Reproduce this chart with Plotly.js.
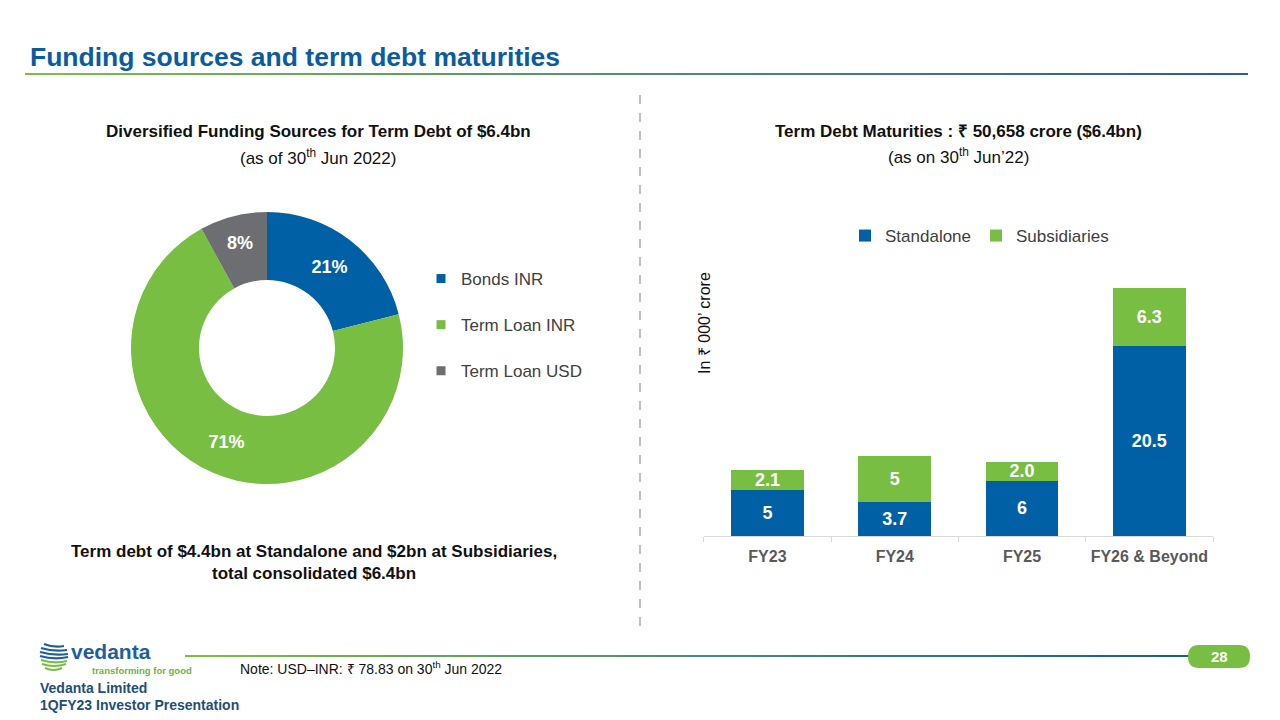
<!DOCTYPE html>
<html>
<head>
<meta charset="utf-8">
<script src="https://cdn.plot.ly/plotly-3.0.1.min.js"></script>
<style>
html,body{margin:0;padding:0;background:#fff;}
#chart{width:1280px;height:720px;}
</style>
</head>
<body>
<div id="chart"></div>
<script>
// ---- Data ----
const fundingLabels = ['Bonds INR', 'Term Loan INR', 'Term Loan USD'];
const fundingShares = [21, 71, 8];
const fundingColors = ['#0060A6', '#77BE43', '#6D6E71'];

const maturityCategories = ['FY23', 'FY24', 'FY25', 'FY26 & Beyond'];
const standaloneValues = [5, 3.7, 6, 20.5];
const standaloneLabels = ['5', '3.7', '6', '20.5'];
const subsidiaryValues = [2.1, 5, 2.0, 6.3];
const subsidiaryLabels = ['2.1', '5', '2.0', '6.3'];
const seriesNames = ['Standalone', 'Subsidiaries'];

const FONT = 'Arial, "Liberation Sans", sans-serif';
const BLUE = '#0060A6', GREEN = '#77BE43';

// ---- Traces ----
const traces = [];
traces.push({
  type: 'pie',
  labels: fundingLabels,
  values: fundingShares,
  marker: {colors: fundingColors, line: {width: 0}},
  hole: 0.5,
  sort: false,
  direction: 'clockwise',
  rotation: 0,
  textinfo: 'percent',
  textposition: 'inside',
  insidetextorientation: 'horizontal',
  textfont: {family: FONT, size: 18, color: '#ffffff', weight: 'bold'},
  domain: {x: [131/1280, 403/1280], y: [1 - 484/720, 1 - 212/720]},
  showlegend: false,
  hoverinfo: 'label+percent'
});
// legend entries for the donut (one per category, grouped so spacing can be set)
fundingLabels.forEach((lab, i) => {
  traces.push({
    type: 'scatter', mode: 'markers', x: [null], y: [null],
    xaxis: 'x2', yaxis: 'y2',
    name: lab, legendgroup: 'g' + i, legend: 'legend',
    marker: {symbol: 'square', size: 9, color: fundingColors[i]},
    showlegend: true, hoverinfo: 'skip'
  });
});
traces.push({
  type: 'bar', name: seriesNames[0], x: maturityCategories, y: standaloneValues,
  text: standaloneLabels, textposition: 'inside', insidetextanchor: 'middle', constraintext: 'none',
  textfont: {family: FONT, size: 18, color: '#ffffff', weight: 'bold'},
  marker: {color: BLUE}, legend: 'legend2', cliponaxis: false, textangle: 0
});
traces.push({
  type: 'bar', name: seriesNames[1], x: maturityCategories, y: subsidiaryValues,
  text: subsidiaryLabels, textposition: 'inside', insidetextanchor: 'middle', constraintext: 'none',
  textfont: {family: FONT, size: 18, color: '#ffffff', weight: 'bold'},
  marker: {color: GREEN}, legend: 'legend2', cliponaxis: false, textangle: 0
});

// ---- Decorative shapes ----
const shapes = [];
function lerp(a, b, t) { return Math.round(a + (b - a) * t); }
function gradLine(x0, x1, yTop, c0, c1, n, w) {
  const step = (x1 - x0) / n;
  for (let i = 0; i < n; i++) {
    const t = i / (n - 1);
    const c = 'rgb(' + lerp(c0[0], c1[0], t) + ',' + lerp(c0[1], c1[1], t) + ',' + lerp(c0[2], c1[2], t) + ')';
    shapes.push({type: 'rect', xref: 'paper', yref: 'paper',
      x0: Math.round(x0 + step * i) / 1280, x1: Math.min(x1, Math.round(x0 + step * (i + 1)) + 1) / 1280,
      y0: 1 - yTop / 720, y1: 1 - (yTop + w) / 720,
      fillcolor: c, line: {width: 0}, layer: 'below'});
  }
}
gradLine(25, 1248, 73, [122, 190, 70], [40, 95, 150], 30, 2);
gradLine(185, 1190, 655, [122, 190, 70], [30, 90, 155], 30, 2);
// dashed separator
shapes.push({type: 'line', xref: 'paper', yref: 'paper', x0: 640/1280, x1: 640/1280,
  y0: 1 - 95/720, y1: 1 - 630/720, line: {color: '#808080', width: 1, dash: 'dash'}});
// page badge
shapes.push({type: 'path', xref: 'paper', yref: 'paper',
  path: (function(){
    const L = 1188/1280, R = 1250/1280, T = 1 - 645/720, B = 1 - 668/720;
    const rx = 11/1280, ry = 11.5/720;
    return 'M ' + (L + rx) + ' ' + T + ' L ' + (R - rx) + ' ' + T +
      ' Q ' + R + ' ' + T + ' ' + R + ' ' + (T - ry) +
      ' Q ' + R + ' ' + B + ' ' + (R - rx) + ' ' + B +
      ' L ' + (L + rx) + ' ' + B +
      ' Q ' + L + ' ' + B + ' ' + L + ' ' + (T - ry) +
      ' Q ' + L + ' ' + T + ' ' + (L + rx) + ' ' + T + ' Z';
  })(),
  fillcolor: '#77BE43', line: {width: 0}});
// logo globe (stripes)
const logoStripes = [
  [44, 644, 64, 646, '#1C5FA0'], [41, 648, 67, 650, '#1C5FA0'], [40, 652, 68, 654, '#1C5FA0'],
  [40, 656, 68, 657, '#1C5FA0'], [41, 660, 67, 661, '#77BE43'], [42, 664, 66, 664, '#77BE43'],
  [45, 668, 62, 668, '#77BE43']
];
logoStripes.forEach(s => {
  shapes.push({type: 'path', xref: 'paper', yref: 'paper',
    path: 'M ' + s[0]/1280 + ' ' + (1 - s[1]/720) + ' Q ' + ((s[0] + s[2]) / 2)/1280 + ' ' + (1 - (s[1] + 4)/720) +
      ' ' + s[2]/1280 + ' ' + (1 - s[3]/720),
    line: {color: s[4], width: 2.2}});
});

// ---- Annotations ----
function ann(text, x, y, opts) {
  return Object.assign({text: text, xref: 'paper', yref: 'paper', x: x / 1280, y: 1 - y / 720,
    showarrow: false, xanchor: 'center', yanchor: 'middle',
    font: {family: FONT, size: 17, color: '#000000'}}, opts || {});
}
const annotations = [
  ann('<b>Funding sources and term debt maturities</b>', 28, 57,
    {xanchor: 'left', font: {family: FONT, size: 26.5, color: '#0B5C9E'}}),
  ann('<b>Diversified Funding Sources for Term Debt of $6.4bn</b>', 318, 131, {font: {family: FONT, size: 17, color: '#111'}}),
  ann('(as of 30<sup>th</sup> Jun 2022)', 318, 157, {font: {family: FONT, size: 17, color: '#111'}}),
  ann('<b>Term Debt Maturities : ₹ 50,658 crore ($6.4bn)</b>', 958, 131, {font: {family: FONT, size: 17, color: '#111'}}),
  ann('(as on 30<sup>th</sup> Jun’22)', 958, 156, {font: {family: FONT, size: 17, color: '#111'}}),
  ann('<b>Term debt of $4.4bn at Standalone and $2bn at Subsidiaries,</b>', 314, 551, {font: {family: FONT, size: 17, color: '#111'}}),
  ann('<b>total consolidated $6.4bn</b>', 314, 573, {font: {family: FONT, size: 17, color: '#111'}}),
  ann('In ₹ 000’ crore', 704, 323, {textangle: -90, font: {family: FONT, size: 16, color: '#111'}}),
  ann('Note: USD–INR: ₹ 78.83 on 30<sup>th</sup> Jun 2022', 238, 668, {xanchor: 'left', font: {family: FONT, size: 14, color: '#111'}}),
  ann('<b>Vedanta Limited</b>', 38, 688, {xanchor: 'left', font: {family: FONT, size: 14, color: '#1F4E79'}}),
  ann('<b>1QFY23 Investor Presentation</b>', 38, 705, {xanchor: 'left', font: {family: FONT, size: 14, color: '#1F4E79'}}),
  ann('<b>28</b>', 1219, 656, {font: {family: FONT, size: 15, color: '#ffffff'}}),
  ann('<b>vedanta</b>', 69, 651, {xanchor: 'left', font: {family: FONT, size: 21, color: '#1C5FA0'}}),
  ann('<b>transforming for good</b>', 90, 670, {xanchor: 'left', font: {family: FONT, size: 9.5, color: '#6DB33F'}})
];

// ---- Layout ----
const layout = {
  width: 1280, height: 720,
  margin: {l: 0, r: 0, t: 0, b: 0},
  paper_bgcolor: '#ffffff', plot_bgcolor: '#ffffff',
  font: {family: FONT, color: '#000'},
  barmode: 'stack',
  bargap: 0.43,
  xaxis: {
    domain: [703.8/1280, 1213/1280], anchor: 'y',
    type: 'category', showgrid: false, zeroline: false,
    showline: true, linecolor: '#D9D9D9', linewidth: 1,
    ticks: 'outside', tickson: 'boundaries', ticklen: 5, tickcolor: '#D9D9D9',
    ticklabelstandoff: 6,
    tickfont: {family: FONT, size: 16, color: '#595959', weight: 'bold'},
    fixedrange: true
  },
  yaxis: {
    domain: [1 - 536/720, 1 - 258.5/720], anchor: 'x',
    range: [0, 30], visible: false, fixedrange: true
  },
  xaxis2: {domain: [0, 0.01], anchor: 'y2', visible: false},
  yaxis2: {domain: [0, 0.01], anchor: 'x2', visible: false},
  legend: {
    x: 421/1280, y: 1 - 261/720, xanchor: 'left', yanchor: 'top',
    orientation: 'v', tracegroupgap: 21, itemclick: false, itemdoubleclick: false,
    font: {family: FONT, size: 17, color: '#404040'}, bgcolor: 'rgba(0,0,0,0)'
  },
  legend2: {
    x: 845/1280, y: 1 - 236/720, xanchor: 'left', yanchor: 'middle',
    orientation: 'h', traceorder: 'normal', itemclick: false, itemdoubleclick: false,
    font: {family: FONT, size: 17, color: '#404040'}, bgcolor: 'rgba(0,0,0,0)'
  },
  shapes: shapes,
  annotations: annotations,
  showlegend: true
};

Plotly.newPlot('chart', traces, layout, {displayModeBar: false, staticPlot: false});
</script>
</body>
</html>
